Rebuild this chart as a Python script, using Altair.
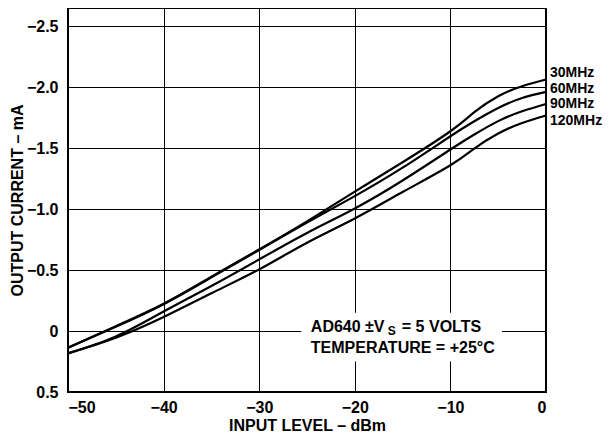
import altair as alt
import pandas as pd

# ---- data ----
x_dbm = [-50, -45, -40, -35, -30, -25, -20, -15, -10, -7.5, -5, -2.5, 0]
i30 = [0.137, -0.04, -0.224, -0.445, -0.67, -0.90, -1.144, -1.385, -1.639, -1.795, -1.926, -2.008, -2.063]
i60 = [0.137, -0.035, -0.22, -0.44, -0.665, -0.89, -1.107, -1.34, -1.598, -1.721, -1.83, -1.912, -1.962]
i90 = [0.183, 0.045, -0.160, -0.37, -0.588, -0.805, -1.006, -1.235, -1.489, -1.612, -1.722, -1.803, -1.863]
i120 = [0.183, 0.055, -0.115, -0.31, -0.506, -0.725, -0.924, -1.14, -1.36, -1.497, -1.620, -1.707, -1.768]

series_names = ["30MHz", "60MHz", "90MHz", "120MHz"]
label_y = [-2.115, -1.984, -1.861, -1.721]

x_ticks = [-50, -40, -30, -20, -10, 0]
y_ticks = [-2.5, -2.0, -1.5, -1.0, -0.5, 0, 0.5]

note_line1_a = "AD640 \u00b1V"
note_line1_sub = "S"
note_line1_b = "= 5 VOLTS"
note_line2 = "TEMPERATURE = +25\u00b0C"

rows = []
for name, vals in zip(series_names, [i30, i60, i90, i120]):
    for xv, yv in zip(x_dbm, vals):
        rows.append({"series": name, "x": xv, "y": yv})
df = pd.DataFrame(rows)

labels_df = pd.DataFrame({"series": series_names, "x": [0] * 4, "y": label_y})

FONT = "Liberation Sans"

xscale = alt.Scale(domain=[-50, 0], nice=False, zero=False)
yscale = alt.Scale(domain=[-2.65, 0.5], reverse=True, nice=False, zero=False)

xaxis = alt.Axis(values=x_ticks, title="INPUT LEVEL \u2013 dBm",
                 labelExpr="datum.value == 0 ? '0' : replace(format(datum.value, 'd'), '-', '\u2013')",
                 labelPadding=7, titlePadding=2)
yaxis = alt.Axis(values=y_ticks, title="OUTPUT CURRENT \u2013 mA",
                 labelExpr="datum.value == 0 ? '0' : replace(format(datum.value, '.1f'), '-', '\u2013')",
                 labelPadding=10, titlePadding=1)

lines = alt.Chart(df).mark_line(color="black", strokeWidth=2.2, interpolate="natural").encode(
    x=alt.X("x:Q", scale=xscale, axis=xaxis),
    y=alt.Y("y:Q", scale=yscale, axis=yaxis),
    detail="series:N",
)

box_df = pd.DataFrame({"x": [-25.6], "x2": [-4.6], "y": [-0.15], "y2": [0.25]})
box = alt.Chart(box_df).mark_rect(color="white").encode(
    x=alt.X("x:Q", scale=xscale), x2="x2:Q",
    y=alt.Y("y:Q", scale=yscale), y2="y2:Q",
)

note_df = pd.DataFrame({"x": [-24.6], "y1": [-0.03], "y2": [0.135]})
t1a = alt.Chart(note_df).mark_text(text=note_line1_a, align="left", baseline="middle",
                                   font=FONT, fontWeight="bold", fontSize=16, color="black").encode(
    x=alt.X("x:Q", scale=xscale), y=alt.Y("y1:Q", scale=yscale))
t1s = alt.Chart(note_df).mark_text(text=note_line1_sub, align="left", baseline="middle", dx=77, dy=4,
                                   font=FONT, fontWeight="bold", fontSize=12, color="black").encode(
    x=alt.X("x:Q", scale=xscale), y=alt.Y("y1:Q", scale=yscale))
t1b = alt.Chart(note_df).mark_text(text=note_line1_b, align="left", baseline="middle", dx=91,
                                   font=FONT, fontWeight="bold", fontSize=16, color="black").encode(
    x=alt.X("x:Q", scale=xscale), y=alt.Y("y1:Q", scale=yscale))
t2 = alt.Chart(note_df).mark_text(text=note_line2, align="left", baseline="middle",
                                  font=FONT, fontWeight="bold", fontSize=16, color="black").encode(
    x=alt.X("x:Q", scale=xscale), y=alt.Y("y2:Q", scale=yscale))

labels = alt.Chart(labels_df).mark_text(align="left", baseline="middle", dx=4,
                                        font=FONT, fontWeight="bold", fontSize=14, color="black").encode(
    x=alt.X("x:Q", scale=xscale), y=alt.Y("y:Q", scale=yscale), text="series:N")

chart = alt.layer(box, lines, t1a, t1s, t1b, t2, labels).properties(
    width=478, height=384,
    autosize=alt.AutoSizeParams(type="none"),
    padding={"left": 60, "top": 0, "right": 58, "bottom": 41},
).configure_view(
    stroke="black", strokeWidth=2
).configure_axis(
    domain=False, ticks=False, grid=True, gridColor="black", gridWidth=1, gridOpacity=1,
    labelFont=FONT, labelFontWeight="bold", labelFontSize=16, labelColor="black",
    titleFont=FONT, titleFontWeight="bold", titleFontSize=16, titleColor="black",
)

chart.save("out.html", embed_options={"renderer": "svg", "actions": False})
